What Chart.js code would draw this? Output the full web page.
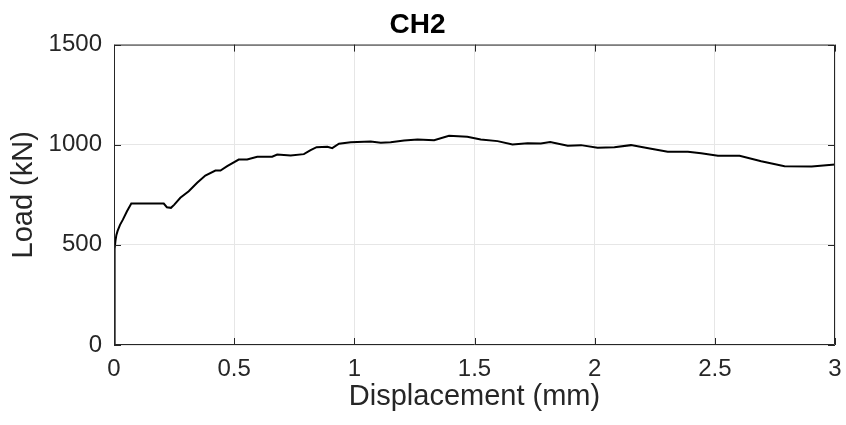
<!DOCTYPE html>
<html>
<head>
<meta charset="utf-8">
<script src="https://cdn.jsdelivr.net/npm/chart.js@4"></script>
<style>
  html, body { margin: 0; padding: 0; background: #fff; }
  #wrap { width: 846px; height: 425px; }
</style>
</head>
<body>
<div id="wrap"><canvas id="ch2Chart"></canvas></div>
<script>
// CH2 load-displacement curve
const displacement = [0, 0.001, 0.002, 0.003, 0.004, 0.006, 0.01, 0.015, 0.025, 0.037,
    0.054, 0.072, 0.13, 0.207, 0.22, 0.237, 0.251, 0.276, 0.311, 0.346,
    0.38, 0.422, 0.443, 0.471, 0.519, 0.554, 0.596, 0.658, 0.679, 0.735,
    0.79, 0.818, 0.843, 0.888, 0.908, 0.936, 0.985, 1.068, 1.11, 1.151,
    1.207, 1.263, 1.332, 1.394, 1.47, 1.526, 1.596, 1.658, 1.721, 1.776,
    1.815, 1.888, 1.943, 2.012, 2.082, 2.151, 2.235, 2.304, 2.388, 2.443,
    2.513, 2.603, 2.693, 2.79, 2.903, 3.0];
const load = [0, 150, 300, 420, 480, 520, 550, 570, 600, 626,
    668, 706, 706, 706, 688, 685, 701, 735, 768, 810,
    846, 871, 871, 893, 926, 926, 940, 940, 951, 946,
    953, 973, 988, 990, 983, 1005, 1012, 1016, 1010, 1013,
    1021, 1026, 1023, 1045, 1040, 1026, 1018, 1001, 1008, 1006,
    1013, 995, 998, 985, 988, 998, 980, 965, 965, 958,
    945, 945, 918, 893, 891, 901];

const xTicks = [0, 0.5, 1, 1.5, 2, 2.5, 3];
const yTicks = [0, 500, 1000, 1500];

const axisColor = '#262626';
const fontFamily = 'Arial, "Liberation Sans", Helvetica, sans-serif';

// MATLAB-like box with inward ticks on all four sides
const boxPlugin = {
    id: 'matlabBox',
    afterDatasetsDraw(chart) {
        const { ctx, chartArea: a, scales } = chart;
        const len = 7;
        ctx.save();
        ctx.strokeStyle = axisColor;
        ctx.lineWidth = 1;
        ctx.beginPath();
        ctx.rect(a.left + 0.5, a.top + 0.5, a.right - a.left - 1, a.bottom - a.top - 1);
        xTicks.forEach(v => {
            const px = Math.round(scales.x.getPixelForValue(v)) + 0.5;
            ctx.moveTo(px, a.bottom); ctx.lineTo(px, a.bottom - len);
            ctx.moveTo(px, a.top); ctx.lineTo(px, a.top + len);
        });
        yTicks.forEach(v => {
            const py = Math.round(scales.y.getPixelForValue(v)) + 0.5;
            ctx.moveTo(a.left, py); ctx.lineTo(a.left + len, py);
            ctx.moveTo(a.right, py); ctx.lineTo(a.right - len, py);
        });
        ctx.stroke();
        ctx.restore();
    }
};

const ctx = document.getElementById('ch2Chart').getContext('2d');

new Chart(ctx, {
    type: 'scatter',
    data: {
        datasets: [{
            label: 'CH2',
            data: displacement.map((d, i) => ({ x: d, y: load[i] })),
            showLine: true,
            borderColor: '#000000',
            borderWidth: 2,
            pointRadius: 0,
            tension: 0
        }]
    },
    options: {
        responsive: true,
        maintainAspectRatio: false,
        animation: false,
        layout: { padding: { left: 0, right: 11, top: 0, bottom: 0 } },
        plugins: {
            legend: { display: false },
            tooltip: { enabled: false },
            title: {
                display: true,
                text: 'CH2',
                color: '#000',
                font: { family: fontFamily, size: 28, weight: 'bold' },
                padding: { top: 8, bottom: 3 }
            }
        },
        scales: {
            x: {
                type: 'linear',
                min: 0,
                max: 3,
                afterBuildTicks: axis => { axis.ticks = xTicks.map(v => ({ value: v })); },
                afterFit: axis => {
                    axis.height = 80;
                    axis.paddingLeft = 0;
                    axis.paddingRight = 0;
                },
                grid: { color: '#e6e6e6', drawTicks: false },
                border: { display: false },
                ticks: {
                    color: axisColor,
                    padding: 10,
                    maxRotation: 0,
                    font: { family: fontFamily, size: 24 },
                    callback: v => String(v)
                },
                title: {
                    display: true,
                    text: 'Displacement (mm)',
                    color: axisColor,
                    font: { family: fontFamily, size: 29 },
                    padding: { top: 0, bottom: 11 }
                }
            },
            y: {
                type: 'linear',
                min: 0,
                max: 1500,
                afterBuildTicks: axis => { axis.ticks = yTicks.map(v => ({ value: v })); },
                afterFit: axis => { axis.width = 114; },
                grid: { color: '#e6e6e6', drawTicks: false },
                border: { display: false },
                ticks: {
                    color: axisColor,
                    padding: 12,
                    font: { family: fontFamily, size: 24 },
                    callback: v => String(v)
                },
                title: {
                    display: true,
                    text: 'Load (kN)',
                    color: axisColor,
                    font: { family: fontFamily, size: 29 },
                    padding: { top: 7, bottom: 0 }
                }
            }
        }
    },
    plugins: [boxPlugin]
});
</script>
</body>
</html>
